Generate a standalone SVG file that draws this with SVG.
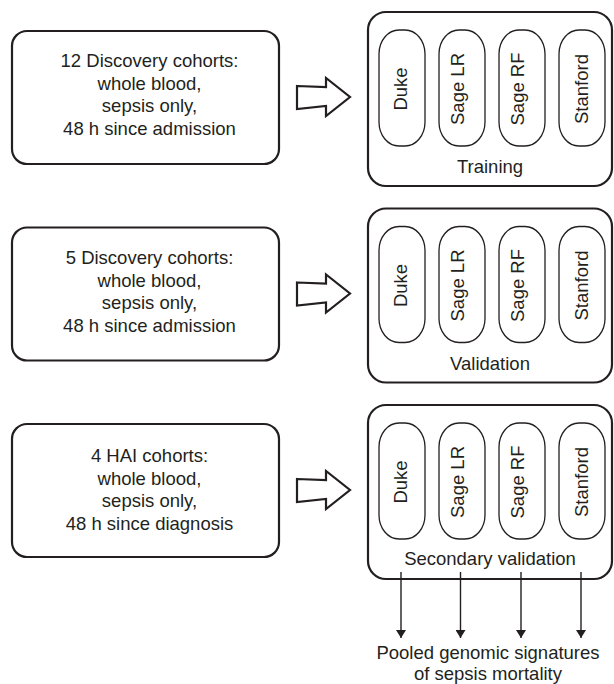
<svg xmlns="http://www.w3.org/2000/svg" width="614" height="684" viewBox="0 0 614 684">
<defs>
<style>
text{font-family:"Liberation Sans",Arial,Helvetica,sans-serif;font-size:18.5px;fill:#231f20;text-anchor:middle}
.box{fill:#fff;stroke:#231f20;stroke-width:2.2}
.pill{fill:#fff;stroke:#231f20;stroke-width:1.3}
.blk{fill:#fff;stroke:#231f20;stroke-width:2.2;stroke-linejoin:miter}
.down{stroke:#231f20;stroke-width:1.4;fill:none}
</style>
<marker id="ah" viewBox="0 0 8 10" refX="8" refY="5" markerWidth="8" markerHeight="10" markerUnits="userSpaceOnUse" orient="auto">
<path d="M0,0 L8,5 L0,10 Z" fill="#231f20" transform="rotate(0)"/>
</marker>
<g id="pills">
<rect class="pill" x="379" y="30" width="46" height="116" rx="20" ry="24"/>
<rect class="pill" x="439" y="30" width="46" height="116" rx="20" ry="24"/>
<rect class="pill" x="499" y="30" width="46" height="116" rx="20" ry="24"/>
<rect class="pill" x="559" y="30" width="46" height="116" rx="20" ry="24"/>
<text transform="translate(407,89) rotate(-90)">Duke</text>
<text transform="translate(464,89) rotate(-90)">Sage LR</text>
<text transform="translate(523.5,89) rotate(-90)">Sage RF</text>
<text transform="translate(588,89) rotate(-90)">Stanford</text>
</g>
</defs>

<g id="cohorts-12">
<rect class="box" x="12" y="31" width="267" height="133" rx="15"/>
<text x="149.5" y="67">12 Discovery cohorts:</text>
<text x="149.5" y="89.5">whole blood,</text>
<text x="149.5" y="112">sepsis only,</text>
<text x="149.5" y="134.5">48 h since admission</text>
</g>

<g id="cohorts-5">
<rect class="box" x="12" y="227.5" width="267" height="133" rx="15"/>
<text x="149.5" y="264">5 Discovery cohorts:</text>
<text x="149.5" y="286.5">whole blood,</text>
<text x="149.5" y="309">sepsis only,</text>
<text x="149.5" y="331.5">48 h since admission</text>
</g>

<g id="cohorts-hai">
<rect class="box" x="12" y="424" width="267" height="133" rx="15"/>
<text x="149.5" y="462">4 HAI cohorts:</text>
<text x="149.5" y="484.5">whole blood,</text>
<text x="149.5" y="507">sepsis only,</text>
<text x="149.5" y="529.5">48 h since diagnosis</text>
</g>

<g id="training">
<rect class="box" x="368" y="12" width="244" height="174" rx="18"/>
<use href="#pills"/>
<text x="490" y="173">Training</text>
</g>

<g id="validation">
<rect class="box" x="368" y="208.5" width="244" height="174" rx="18"/>
<use href="#pills" transform="translate(0,196.5)"/>
<text x="490" y="369.5">Validation</text>
</g>

<g id="secondary-validation">
<rect class="box" x="368" y="405" width="244" height="174" rx="18"/>
<use href="#pills" transform="translate(0,393)"/>
<text x="490" y="565">Secondary validation</text>
</g>

<g id="pooled">
<text x="488" y="659">Pooled genomic signatures</text>
<text x="488" y="680">of sepsis mortality</text>
</g>

<g id="connectors">
<path class="blk" d="M297,86 L326,87 L326,78 L350,97 L326,116 L326,106 L297,109 Z"/>
<path class="blk" transform="translate(0,196.5)" d="M297,86 L326,87 L326,78 L350,97 L326,116 L326,106 L297,109 Z"/>
<path class="blk" transform="translate(0,393)" d="M297,86 L326,87 L326,78 L350,97 L326,116 L326,106 L297,109 Z"/>
<line class="down" x1="401" y1="572" x2="401" y2="638" marker-end="url(#ah)"/>
<line class="down" x1="460.5" y1="572" x2="460.5" y2="638" marker-end="url(#ah)"/>
<line class="down" x1="521" y1="572" x2="521" y2="638" marker-end="url(#ah)"/>
<line class="down" x1="581" y1="572" x2="581" y2="638" marker-end="url(#ah)"/>
</g>
</svg>
